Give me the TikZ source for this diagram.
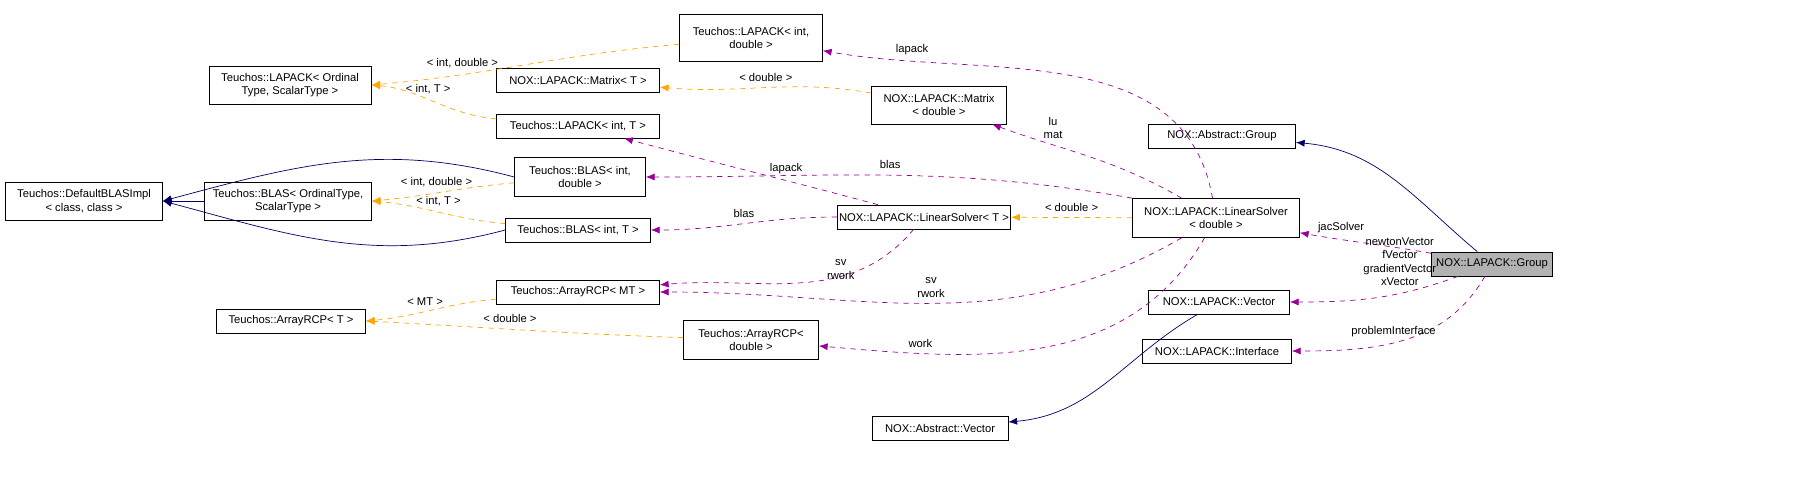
\documentclass[tikz,border=0pt]{standalone}
\usepackage{fontspec}
\setmainfont{Liberation Sans}
\usetikzlibrary{arrows.meta}
\tikzset{
  cls/.style={draw, rectangle, inner sep=1pt, align=center, font=\fontsize{6.4}{7.6}\selectfont},
  tmpl/.style={->, >={Latex[length=5pt,width=4pt]}, dashed, orange!70!yellow},
  inh/.style={->, >={Latex[length=5pt,width=4pt]}, blue!40!black},
  use/.style={->, >={Latex[length=5pt,width=4pt]}, dashed, violet!80!magenta},
  lbl/.style={font=\fontsize{6.4}{7.6}\selectfont, align=center, text=black}
}
\begin{document}
\begin{tikzpicture}[x=0.02cm, y=-0.02cm]
        \useasboundingbox (0,0) rectangle (1816,479);
        \node[cls, minimum width=2.86cm, minimum height=0.94cm] (lapid) at (751,38) {Teuchos::LAPACK< int,\\ double >};
        \node[cls, minimum width=3.24cm, minimum height=0.76cm] (lapot) at (290,85) {Teuchos::LAPACK< Ordinal\\ Type, ScalarType >};
        \node[cls, minimum width=3.26cm, minimum height=0.48cm] (matt) at (578,80) {NOX::LAPACK::Matrix< T >};
        \node[cls, minimum width=2.7cm, minimum height=0.76cm] (matd) at (939,105) {NOX::LAPACK::Matrix\\< double >};
        \node[cls, minimum width=3.26cm, minimum height=0.48cm] (lapit) at (578,126) {Teuchos::LAPACK< int, T >};
        \node[cls, minimum width=2.94cm, minimum height=0.48cm] (agrp) at (1222,136) {NOX::Abstract::Group};
        \node[cls, minimum width=3.14cm, minimum height=0.76cm] (dblas) at (84,201) {Teuchos::DefaultBLASImpl\\< class, class >};
        \node[cls, minimum width=3.34cm, minimum height=0.76cm] (blasot) at (288,201) {Teuchos::BLAS< OrdinalType,\\ ScalarType >};
        \node[cls, minimum width=2.62cm, minimum height=0.78cm] (blasid) at (580,177) {Teuchos::BLAS< int,\\ double >};
        \node[cls, minimum width=2.9cm, minimum height=0.48cm] (blasit) at (578,230) {Teuchos::BLAS< int, T >};
        \node[cls, minimum width=3.44cm, minimum height=0.48cm] (solt) at (924,217) {NOX::LAPACK::LinearSolver< T >};
        \node[cls, minimum width=3.34cm, minimum height=0.78cm] (sold) at (1216,218) {NOX::LAPACK::LinearSolver\\< double >};
        \node[cls, fill=gray!60, minimum width=2.42cm, minimum height=0.48cm] (grp) at (1492,264) {NOX::LAPACK::Group};
        \node[cls, minimum width=3.26cm, minimum height=0.48cm] (rcpmt) at (578,292) {Teuchos::ArrayRCP< MT >};
        \node[cls, minimum width=2.98cm, minimum height=0.48cm] (rcpt) at (291,321) {Teuchos::ArrayRCP< T >};
        \node[cls, minimum width=2.7cm, minimum height=0.78cm] (rcpd) at (751,340) {Teuchos::ArrayRCP<\\ double >};
        \node[cls, minimum width=2.82cm, minimum height=0.48cm] (vec) at (1219,302) {NOX::LAPACK::Vector};
        \node[cls, minimum width=2.98cm, minimum height=0.48cm] (intf) at (1217,351) {NOX::LAPACK::Interface};
        \node[cls, minimum width=2.72cm, minimum height=0.48cm] (avec) at (940,428) {NOX::Abstract::Vector};

        % template instances
        \draw[tmpl] (lapid) to[out=185,in=5] node[lbl, pos=0.72, above] {< int, double >} (lapot.east);
        \draw[tmpl] (lapit) to[out=175,in=-5] node[lbl, pos=0.55, above] {< int, T >} (lapot.east);
        \draw[tmpl] (matd) to[out=170,in=-5] node[lbl, pos=0.5, above] {< double >} (matt);
        \draw[tmpl] (blasid) to[out=185,in=5] node[lbl, pos=0.55, above] {< int, double >} (blasot.east);
        \draw[tmpl] (blasit) to[out=175,in=-5] node[lbl, pos=0.5, above] {< int, T >} (blasot.east);
        \draw[tmpl] (sold) -- node[lbl, above] {< double >} (solt);
        \draw[tmpl] (rcpmt) to[out=185,in=5] node[lbl, pos=0.55, above] {< MT >} (rcpt.east);
        \draw[tmpl] (rcpd) to[out=178,in=-3] node[lbl, pos=0.55, above] {< double >} (rcpt.east);

        % inheritance
        \draw[inh] (blasid.west) to[out=165,in=15] (dblas.east);
        \draw[inh] (blasot) -- (dblas);
        \draw[inh] (blasit.west) to[out=195,in=-15] (dblas.east);
        \draw[inh] (grp) to[out=140,in=-5] (agrp);
        \draw[inh] (vec) to[out=-150,in=5] (avec);

        % members
        \draw[use] (sold) to[out=100,in=-10] node[lbl, pos=0.82, above] {lapack} (lapid);
        \draw[use] (sold) to[out=150,in=-20] node[lbl, pos=0.7, above] {lu\\mat} (matd);
        \draw[use] (sold.north west) to[out=170,in=0] node[lbl, pos=0.5, above] {blas} (blasid);
        \draw[use] (sold) to[out=-150,in=0] node[lbl, pos=0.5, above] {sv\\rwork} (rcpmt);
        \draw[use] (sold) to[out=-120,in=-5] node[lbl, pos=0.78, above] {work} (rcpd);
        \draw[use] (solt) to[out=165,in=-15] node[lbl, pos=0.35, above] {lapack} (lapit);
        \draw[use] (solt) to[out=180,in=0] node[lbl, pos=0.5, above] {blas} (blasit);
        \draw[use] (solt) to[out=-130,in=5] node[lbl, pos=0.25, left] {sv\\rwork} (rcpmt);
        \draw[use] (grp) to[out=170,in=-10] node[lbl, pos=0.7, above] {jacSolver} (sold);
        \draw[use] (grp) to[out=-160,in=0] node[lbl, pos=0.3, above, xshift=-4pt] {newtonVector\\fVector\\gradientVector\\xVector} (vec);
        \draw[use] (grp) to[out=-120,in=0] node[lbl, pos=0.55, above] {problemInterface} (intf);
\end{tikzpicture}
\end{document}
